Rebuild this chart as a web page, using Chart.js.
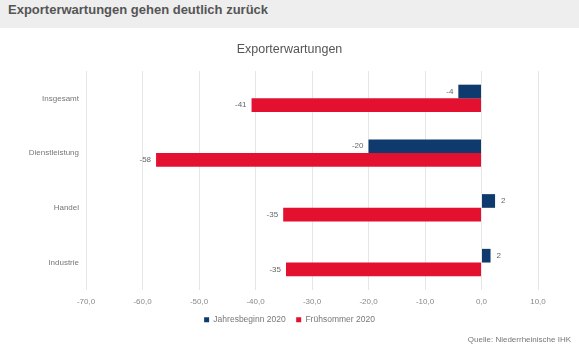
<!DOCTYPE html>
<html>
<head>
<meta charset="utf-8">
<script src="https://cdn.jsdelivr.net/npm/chart.js@4/dist/chart.umd.min.js"></script>
<style>
  body { margin: 0; width: 579px; height: 346px; background: #fff; position: relative; overflow: hidden;
         font-family: "Liberation Sans", Arial, sans-serif; }
  #head { position: absolute; left: 0; top: 0; width: 579px; height: 28px; background: #eeeeee;
          color: #555; font-weight: bold; font-size: 13px; padding: 2px 0 0 8px; box-sizing: border-box; }
  #wrap { position: absolute; left: 0; top: 0; width: 579px; height: 346px; }
  #src { position: absolute; right: 8px; top: 335px; font-size: 8px; color: #777; }
</style>
</head>
<body>
<div id="head">Exporterwartungen gehen deutlich zurück</div>
<div id="wrap"><canvas id="chart"></canvas></div>
<div id="src">Quelle: Niederrheinische IHK</div>
<script>
const categories = ['Insgesamt', 'Dienstleistung', 'Handel', 'Industrie'];
const jahresbeginn = [-4.1, -20, 2.4, 1.6];
const fruehsommer = [-40.7, -57.6, -35.1, -34.6];
const seriesNames = ['Jahresbeginn 2020', 'Frühsommer 2020'];

Chart.defaults.font.family = '"Liberation Sans", Arial, sans-serif';
Chart.defaults.color = '#777';

// values written next to the bar ends
const barLabels = {
    id: 'barLabels',
    afterDatasetsDraw(chart) {
        const ctx = chart.ctx;
        ctx.save();
        ctx.font = '8px "Liberation Sans", Arial';
        ctx.fillStyle = '#666';
        ctx.textBaseline = 'middle';
        chart.data.datasets.forEach((ds, i) => {
            chart.getDatasetMeta(i).data.forEach((bar, j) => {
                const v = ds.data[j];
                if (v < 0) {
                    ctx.textAlign = 'right';
                    ctx.fillText(Math.round(v), bar.x - 5, bar.y);
                } else {
                    ctx.textAlign = 'left';
                    ctx.fillText(Math.round(v), bar.x + 6, bar.y);
                }
            });
        });
        ctx.restore();
    }
};

const defaultLegendLabels = Chart.defaults.plugins.legend.labels.generateLabels;

new Chart(document.getElementById('chart'), {
    type: 'bar',
    data: {
        labels: categories,
        datasets: [
            { label: seriesNames[0], data: jahresbeginn, backgroundColor: '#0e3a6e' },
            { label: seriesNames[1], data: fruehsommer, backgroundColor: '#e3102f' }
        ]
    },
    options: {
        indexAxis: 'y',
        responsive: true,
        maintainAspectRatio: false,
        animation: false,
        categoryPercentage: 0.5,
        barPercentage: 1.0,
        layout: { padding: { top: 28, right: 0, bottom: 12, left: 0 } },
        scales: {
            x: {
                min: -70, max: 10,
                ticks: {
                    stepSize: 10, padding: 7, color: '#888',
                    font: { size: 8 },
                    callback: v => v.toFixed(1).replace('.', ',')
                },
                grid: { color: '#e6e6e6', drawTicks: false },
                border: { display: false }
            },
            y: {
                ticks: { padding: 7, color: '#777', font: { size: 8 } },
                grid: { display: false, drawTicks: false },
                border: { display: false },
                afterFit: s => { s.width = 86; }
            },
            // empty right axis, keeps room right of the plot
            yr: {
                type: 'category', position: 'right', axis: 'y',
                ticks: { display: false },
                grid: { display: false },
                border: { display: false },
                afterFit: s => { s.width = 41; }
            }
        },
        plugins: {
            title: {
                display: true, text: 'Exporterwartungen', color: '#555',
                font: { size: 12.5, weight: 'normal' },
                padding: { top: 14, bottom: 14 }
            },
            legend: {
                position: 'bottom',
                labels: {
                    usePointStyle: true, pointStyle: 'rect', boxWidth: 5, boxHeight: 5,
                    padding: 2, color: '#777', font: { size: 8.5 },
                    // small padding keeps the legend low; extra gap after the first item
                    generateLabels: chart => defaultLegendLabels(chart).map((l, i, arr) => {
                        if (i < arr.length - 1) l.text += '\u2002\u2002';
                        return l;
                    })
                }
            },
            tooltip: { enabled: false }
        }
    },
    plugins: [barLabels]
});
</script>
</body>
</html>
